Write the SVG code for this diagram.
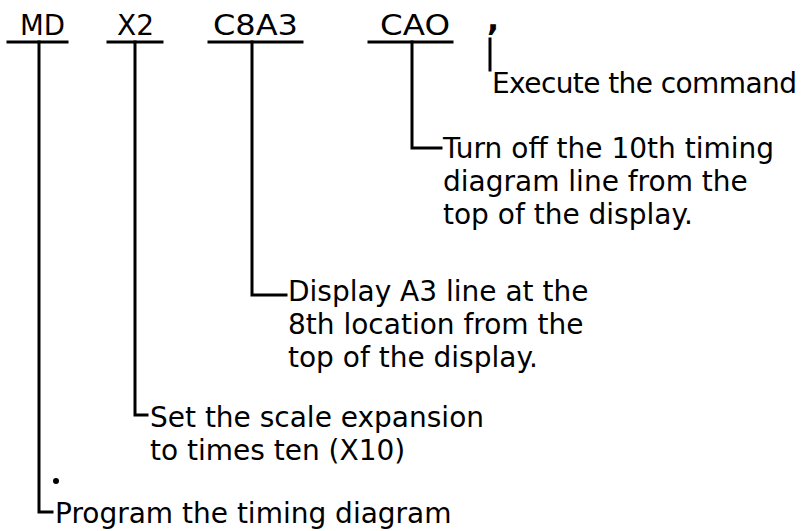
<svg xmlns="http://www.w3.org/2000/svg" width="806" height="531" viewBox="0 0 806 531">
<style>
text{font-family:"DejaVu Sans","Liberation Sans",sans-serif;font-size:28px;fill:#000}
.cmd{font-size:28px}
.ln{stroke:#000;stroke-width:3;fill:none;stroke-linecap:square}
</style>
<rect width="806" height="531" fill="#fff"/>
<g id="cmd-md"><text class="cmd" x="20" y="35" textLength="45" lengthAdjust="spacingAndGlyphs">MD</text><line class="ln" x1="8" y1="42" x2="67" y2="42"/></g>
<g id="cmd-x2"><text class="cmd" x="117" y="35" textLength="37" lengthAdjust="spacingAndGlyphs">X2</text><line class="ln" x1="108" y1="42" x2="162" y2="42"/></g>
<g id="cmd-c8a3"><text class="cmd" x="213" y="35" textLength="85" lengthAdjust="spacingAndGlyphs">C8A3</text><line class="ln" x1="209" y1="42" x2="302" y2="42"/></g>
<g id="cmd-cao"><text class="cmd" x="380" y="35" textLength="70" lengthAdjust="spacingAndGlyphs">CAO</text><line class="ln" x1="369" y1="42" x2="452" y2="42"/></g>
<g id="cmd-comma"><text x="487" y="30" style="font-size:32px;font-weight:bold">,</text></g>
<g id="desc-execute"><text x="492" y="93" textLength="305" lengthAdjust="spacing">Execute the command</text></g>
<g id="desc-cao"><text x="443" y="158">Turn off the 10th timing</text><text x="443" y="191">diagram line from the</text><text x="443" y="224">top of the display.</text></g>
<g id="desc-c8a3"><text x="288" y="301">Display A3 line at the</text><text x="288" y="334">8th location from the</text><text x="288" y="367">top of the display.</text></g>
<g id="desc-x2"><text x="150" y="427">Set the scale expansion</text><text x="150" y="460">to times ten (X10)</text></g>
<g id="desc-md"><circle cx="56" cy="481" r="3"/><text x="55" y="523">Program the timing diagram</text></g>
<g id="connectors">
<polyline class="ln" points="39,42 39,512 52,512"/>
<polyline class="ln" points="135,42 135,415 147,415"/>
<polyline class="ln" points="252,42 252,295 286,295"/>
<polyline class="ln" points="412,42 412,148 441,148"/>
<line class="ln" x1="490" y1="39" x2="490" y2="70"/>
</g>
</svg>
